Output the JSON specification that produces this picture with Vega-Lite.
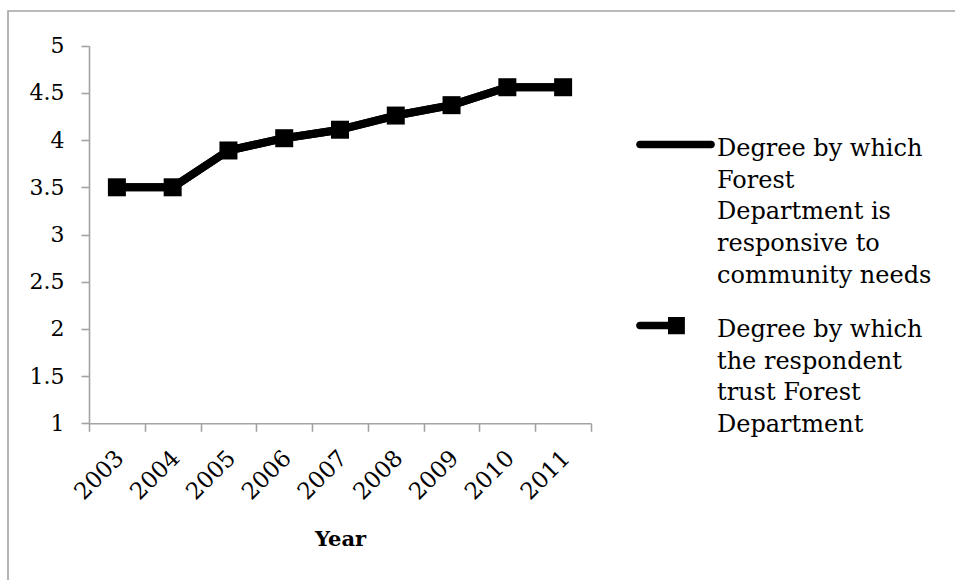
{
  "$schema": "https://vega.github.io/schema/vega-lite/v6.json",
  "width": 947,
  "height": 569,
  "autosize": {"type": "none"},
  "padding": {"left": 8, "top": 11, "right": 0, "bottom": 0},
  "background": "white",
  "config": {
    "font": "DejaVu Serif",
    "view": {"stroke": "#a3a3a3", "strokeWidth": 1.6, "strokeDash": [947, 1516, 569, 100]},
    "axis": {
      "domainColor": "#a3a3a3",
      "domainWidth": 1.6,
      "tickColor": "#a3a3a3",
      "tickWidth": 1.6,
      "labelColor": "black",
      "labelFont": "DejaVu Serif",
      "titleFont": "DejaVu Serif",
      "titleColor": "black",
      "grid": false
    }
  },
  "data": {
    "values": [
      {"year": 2003, "score": 3.5, "series": "Degree by which Forest Department is responsive to community needs"},
      {"year": 2004, "score": 3.5, "series": "Degree by which Forest Department is responsive to community needs"},
      {"year": 2005, "score": 3.89, "series": "Degree by which Forest Department is responsive to community needs"},
      {"year": 2006, "score": 4.02, "series": "Degree by which Forest Department is responsive to community needs"},
      {"year": 2007, "score": 4.11, "series": "Degree by which Forest Department is responsive to community needs"},
      {"year": 2008, "score": 4.26, "series": "Degree by which Forest Department is responsive to community needs"},
      {"year": 2009, "score": 4.37, "series": "Degree by which Forest Department is responsive to community needs"},
      {"year": 2010, "score": 4.56, "series": "Degree by which Forest Department is responsive to community needs"},
      {"year": 2011, "score": 4.56, "series": "Degree by which Forest Department is responsive to community needs"},
      {"year": 2003, "score": 3.5, "series": "Degree by which the respondent trust Forest Department"},
      {"year": 2004, "score": 3.5, "series": "Degree by which the respondent trust Forest Department"},
      {"year": 2005, "score": 3.89, "series": "Degree by which the respondent trust Forest Department"},
      {"year": 2006, "score": 4.02, "series": "Degree by which the respondent trust Forest Department"},
      {"year": 2007, "score": 4.11, "series": "Degree by which the respondent trust Forest Department"},
      {"year": 2008, "score": 4.26, "series": "Degree by which the respondent trust Forest Department"},
      {"year": 2009, "score": 4.37, "series": "Degree by which the respondent trust Forest Department"},
      {"year": 2010, "score": 4.56, "series": "Degree by which the respondent trust Forest Department"},
      {"year": 2011, "score": 4.56, "series": "Degree by which the respondent trust Forest Department"}
    ]
  },
  "encoding": {
    "x": {
      "field": "year",
      "type": "quantitative",
      "scale": {"domain": [2002.5, 2011.5], "range": [81, 583], "nice": false, "zero": false},
      "axis": {
        "values": [2002.5, 2003.5, 2004.5, 2005.5, 2006.5, 2007.5, 2008.5, 2009.5, 2010.5, 2011.5],
        "offset": -156.7,
        "labelExpr": "datum.value > 2011 ? '' : toString(datum.value + 0.5)",
        "labelAngle": -45,
        "labelOffset": 23,
        "labelFontSize": 23,
        "labelPadding": 15,
        "labelOverlap": false,
        "labelFlush": false,
        "tickSize": 8,
        "title": "Year",
        "titleFontSize": 21,
        "titleFontWeight": "bold",
        "titlePadding": 25
      }
    },
    "y": {
      "field": "score",
      "type": "quantitative",
      "scale": {"domain": [1, 5], "range": [412.3, 34.7], "nice": false, "zero": false},
      "axis": {
        "values": [1, 1.5, 2, 2.5, 3, 3.5, 4, 4.5, 5],
        "offset": -81,
        "labelExpr": "toString(datum.value)",
        "labelFontSize": 22,
        "labelPadding": 17,
        "tickSize": 8,
        "title": null
      }
    }
  },
  "layer": [
    {
      "mark": {"type": "line", "strokeWidth": 8, "strokeJoin": "round", "strokeCap": "butt"},
      "encoding": {
        "color": {
          "field": "series",
          "type": "nominal",
          "scale": {
            "domain": [
              "Degree by which Forest Department is responsive to community needs",
              "Degree by which the respondent trust Forest Department"
            ],
            "range": ["black", "black"]
          },
          "legend": {
            "orient": "none",
            "legendX": 630,
            "legendY": 96,
            "title": null,
            "padding": 0,
            "symbolSize": 5625,
            "symbolStrokeWidth": 0,
            "symbolFillColor": "black",
            "labelFont": "DejaVu Serif",
            "labelFontSize": 24,
            "labelColor": "black",
            "labelLimit": 400,
            "labelOffset": 4,
            "labelBaseline": "top",
            "rowPadding": -1,
            "labelExpr": "indexof(datum.label, 'responsive') >= 0 ? ['Degree by which', 'Forest', 'Department is', 'responsive to', 'community needs'] : ['Degree by which', 'the respondent', 'trust Forest', 'Department']",
            "encode": {
              "symbols": {
                "update": {
                  "shape": {"signal": "indexof(datum.label, 'responsive') >= 0 ? 'M-0.95,-0.1H0.95A0.1,0.1 0 0 1 0.95,0.1H-0.95A0.1,0.1 0 0 1 -0.95,-0.1Z' : 'M-0.95,-0.1H-0.2V-0.23H0.25V0.23H-0.2V0.1H-0.95A0.1,0.1 0 0 1 -0.95,-0.1Z'"},
                  "fill": {"value": "black"},
                  "strokeWidth": {"value": 0},
                  "opacity": {"value": 1}
                }
              },
              "labels": {
                "update": {
                  "dy": {"value": -7.5},
                  "lineHeight": {"value": 31.7}
                }
              }
            }
          }
        }
      }
    },
    {
      "transform": [{"filter": "datum.series == 'Degree by which the respondent trust Forest Department'"}],
      "mark": {"type": "point", "shape": "square", "filled": true, "size": 324, "color": "black", "opacity": 1}
    }
  ]
}
